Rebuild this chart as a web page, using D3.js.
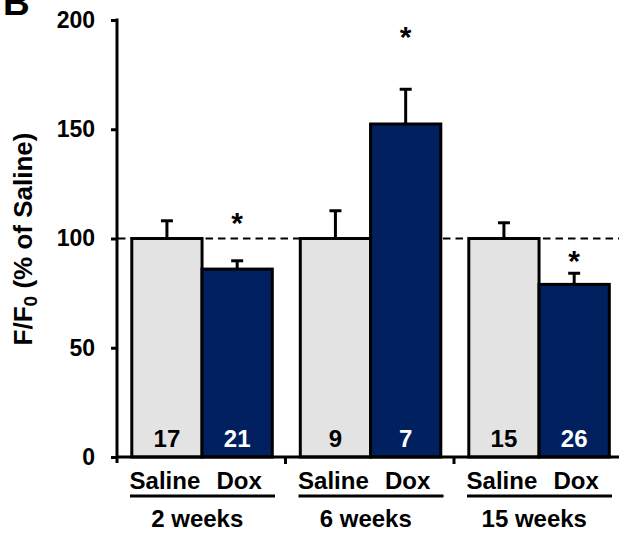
<!DOCTYPE html>
<html>
<head>
<meta charset="utf-8">
<script src="https://cdn.jsdelivr.net/npm/d3@7"></script>
<style>
  html, body { margin: 0; padding: 0; background: #fff; }
  svg { display: block; font-family: "Liberation Sans", Arial, sans-serif; font-weight: bold; }
</style>
</head>
<body>
<svg id="chart" width="619" height="536"></svg>
<script>
// Fluorescence ratio F/F0 as % of saline control, per time point
const groups = ["2 weeks", "6 weeks", "15 weeks"];
const treatments = ["Saline", "Dox"];
const salineMean = [100, 100, 100];
const doxMean = [86.0, 152.4, 79.0];
const salineSem = [8.1, 12.7, 7.2];
const doxSem = [3.8, 15.9, 5.1];
const salineN = [17, 9, 15];
const doxN = [21, 7, 26];
// significance markers (value-axis position of each asterisk)
const starValue = [109.7, 195, 92.4];
const yTicks = [0, 50, 100, 150, 200];

const colors = { Saline: "#e3e3e3", Dox: "#002060" };

const svg = d3.select("#chart");
const x0 = 117, y0 = 457;

const y = d3.scaleLinear().domain([0, 200]).range([y0, 20]);
const xGroup = d3.scaleBand().domain(groups).range([x0, x0 + 168.5 * 3]);
const xBar = d3.scaleBand().domain(treatments).range([14.8, 155.3]);

const rows = groups.map((g, i) => ({
  group: g,
  bars: [
    { t: "Saline", mean: salineMean[i], sem: salineSem[i], n: salineN[i] },
    { t: "Dox", mean: doxMean[i], sem: doxSem[i], n: doxN[i] }
  ],
  star: starValue[i]
}));

// reference line at 100 %
svg.append("line")
  .attr("x1", x0 + 1).attr("x2", 619)
  .attr("y1", y(100)).attr("y2", y(100))
  .attr("stroke", "#000").attr("stroke-width", 2.2)
  .attr("stroke-dasharray", "7.5,5");

const g = svg.selectAll("g.grp").data(rows).join("g")
  .attr("class", "grp")
  .attr("transform", d => `translate(${xGroup(d.group)},0)`);

// error bars (upper SEM only)
const eb = g.selectAll("g.err").data(d => d.bars).join("g").attr("class", "err");
eb.append("line")
  .attr("x1", d => xBar(d.t) + xBar.bandwidth() / 2)
  .attr("x2", d => xBar(d.t) + xBar.bandwidth() / 2)
  .attr("y1", d => y(d.mean)).attr("y2", d => y(d.mean + d.sem))
  .attr("stroke", "#000").attr("stroke-width", 3);
eb.append("line")
  .attr("x1", d => xBar(d.t) + xBar.bandwidth() / 2 - 6)
  .attr("x2", d => xBar(d.t) + xBar.bandwidth() / 2 + 6)
  .attr("y1", d => y(d.mean + d.sem)).attr("y2", d => y(d.mean + d.sem))
  .attr("stroke", "#000").attr("stroke-width", 3);

// bars
g.selectAll("rect").data(d => d.bars).join("rect")
  .attr("x", d => xBar(d.t))
  .attr("width", xBar.bandwidth())
  .attr("y", d => y(d.mean))
  .attr("height", d => y(0) - y(d.mean))
  .attr("fill", d => colors[d.t])
  .attr("stroke", "#000").attr("stroke-width", 3);

// sample sizes inside bars
g.selectAll("text.n").data(d => d.bars).join("text")
  .attr("class", "n")
  .attr("x", d => xBar(d.t) + xBar.bandwidth() / 2)
  .attr("y", 446.5)
  .attr("text-anchor", "middle")
  .attr("font-size", 24)
  .attr("fill", d => d.t === "Dox" ? "#fff" : "#000")
  .text(d => d.n);

// significance asterisks over Dox bars
g.append("text")
  .attr("x", xBar("Dox") + xBar.bandwidth() / 2)
  .attr("y", d => y(d.star) + 16)
  .attr("text-anchor", "middle")
  .attr("font-size", 30)
  .text("*");

// treatment labels
g.selectAll("text.t").data(d => d.bars).join("text")
  .attr("class", "t")
  .attr("x", d => xBar(d.t) + xBar.bandwidth() / 2 + (d.t === "Dox" ? 2 : -2))
  .attr("y", 488.5)
  .attr("text-anchor", "middle")
  .attr("font-size", 24)
  .text(d => d.t);

// group underline and time-point label
g.append("line")
  .attr("x1", 13).attr("x2", 158)
  .attr("y1", 496).attr("y2", 496)
  .attr("stroke", "#000").attr("stroke-width", 3);
g.append("text")
  .attr("x", xGroup.bandwidth() / 2 - 4)
  .attr("y", 526.5)
  .attr("text-anchor", "middle")
  .attr("font-size", 24)
  .text(d => d.group);

// y axis
const yAxis = svg.append("g")
  .attr("transform", `translate(${x0},0)`)
  .call(d3.axisLeft(y).tickValues(yTicks).tickSize(6).tickPadding(16).tickSizeOuter(0));
yAxis.select(".domain").remove();
yAxis.selectAll(".tick line").attr("stroke", "#000").attr("stroke-width", 3);
yAxis.selectAll(".tick text")
  .attr("font-size", 23).attr("font-family", "Liberation Sans, Arial, sans-serif")
  .attr("font-weight", "bold").attr("fill", "#000");
svg.append("line")
  .attr("x1", x0).attr("x2", x0).attr("y1", 20 - 1.5).attr("y2", y0 + 6)
  .attr("stroke", "#000").attr("stroke-width", 3);

// x axis with separators between time points
svg.append("line")
  .attr("x1", x0).attr("x2", 619).attr("y1", y0).attr("y2", y0)
  .attr("stroke", "#000").attr("stroke-width", 3);
svg.selectAll("line.sep").data(groups.slice(1)).join("line")
  .attr("class", "sep")
  .attr("x1", d => xGroup(d)).attr("x2", d => xGroup(d))
  .attr("y1", y0).attr("y2", y0 + 7)
  .attr("stroke", "#000").attr("stroke-width", 3);

// y axis title
const yt = svg.append("text")
  .attr("transform", "translate(31.5,239) rotate(-90)")
  .attr("text-anchor", "middle")
  .attr("font-size", 26);
yt.append("tspan").text("F/F");
yt.append("tspan").attr("font-size", 19).attr("dy", 5.5).text("0");
yt.append("tspan").attr("dy", -5.5).text(" (% of Saline)");

// panel letter
svg.append("text")
  .attr("x", 3).attr("y", 15)
  .attr("font-size", 37)
  .text("B");
</script>
</body>
</html>
